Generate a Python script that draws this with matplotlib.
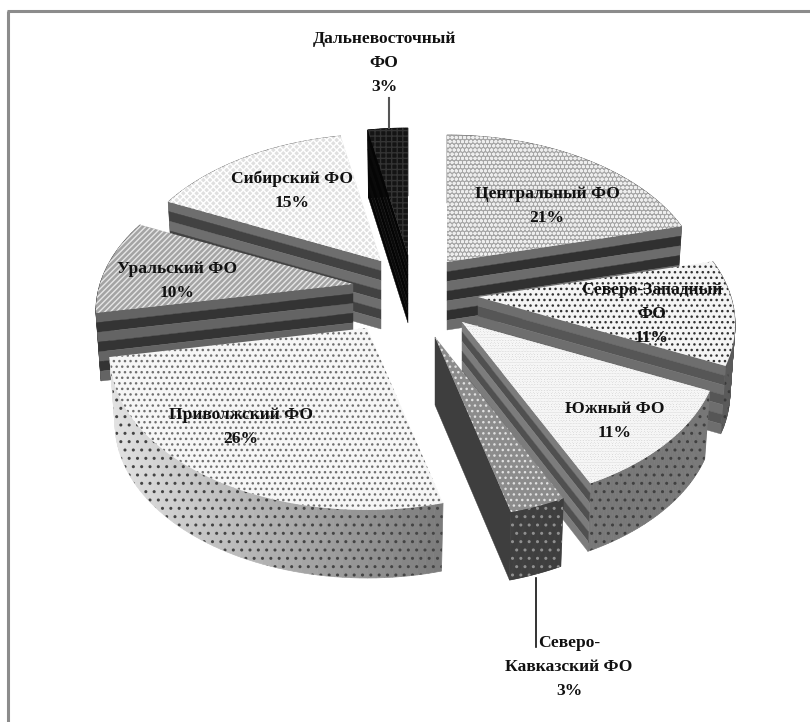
import numpy as np
import matplotlib
matplotlib.use("Agg")
import matplotlib.pyplot as plt
from matplotlib.patches import Polygon

plt.rcParams['font.family'] = ['Liberation Serif', 'DejaVu Serif']
plt.rcParams['hatch.linewidth'] = 1.0

# data
districts = ["Центральный ФО", "Северо-Западный\nФО", "Южный ФО", "Северо-\nКавказский ФО",
             "Приволжский ФО", "Уральский ФО", "Сибирский ФО", "Дальневосточный\nФО"]
shares = [21, 11, 11, 3, 26, 10, 15, 3]

# where each exploded slice sits on the page
apex = [(447, 262), (478, 297), (462, 322), (435, 337),
        (367, 328), (353, 284), (381, 261), (408, 255)]
label_xy = [(547, 206), (652, 314), (615, 421), (569, 667),
            (241, 427), (177, 281), (292, 191), (384, 63)]

# look of the slices: top colour, hatch colour, hatch, side wall edge
top_face = ["#a6a6a6", "#f4f4f4", "#d6d6d6", "#8c8c8c", "#f6f6f6", "#a4a4a4", "#e0e0e0", "#141414"]
top_hatch = ["#eeeeee", "#333333", "#f6f6f6", "#e0e0e0", "#707070", "#e6e6e6", "#ffffff", "#333333"]
top_pattern = ["oooo", "...", "oooooo", "...", "...", "//////", "xxxxx", "+++"]
wall_side = ["end", "end", "end", "end", None, "start", "start", "start"]
wall_cols = [("#6c6c6c", "#303030"), ("#6e6e6e", "#565656"), ("#7c7c7c", "#505050"), ("#3e3e3e", "#3e3e3e"),
             None, ("#646464", "#343434"), ("#6e6e6e", "#424242"), ("#050505", "#0a0a0a")]
arc_left = ["#5a5a5a", "#5a5a5a", "#787878", "#3e3e3e", "#e2e2e2", "#505050", "#707070", "#111111"]
arc_right = ["#5a5a5a", "#5a5a5a", "#787878", "#3e3e3e", "#7c7c7c", "#505050", "#707070", "#111111"]
arc_hatch = ["#3a3a3a", "#3a3a3a", "#404040", "#909090", "#444444", "#3a3a3a", "#3a3a3a", "#333333"]

RX, RY, K = 253, 149.6, 0.178
DEPTH = 68

draw_order = [7, 6, 5, 4, 0, 1, 2, 3]


def project(ang, r=1.0):
    u = r * np.sin(ang)
    v = r * np.cos(ang)
    w = 1 + K * v
    return RX * u / w, -RY * v / w


def drop(pts, ap, frac=1.0):
    # move points of the top face down to the level frac of the thickness
    pts = np.asarray(pts, dtype=float).copy()
    pts[:, 0] = ap[0] + (pts[:, 0] - ap[0]) * (1 - 0.02 * frac)
    pts[:, 1] = pts[:, 1] + DEPTH * frac
    return pts


fig = plt.figure(figsize=(8.1, 7.22), dpi=100)
ax = fig.add_axes([0, 0, 1, 1])
ax.set_xlim(0, 810)
ax.set_ylim(722, 0)
ax.axis("off")

# frame of the picture
ax.plot([8, 8], [722, 10.5], color="#8c8c8c", lw=2.2, solid_capstyle="butt")
ax.plot([7, 810], [10.5, 10.5], color="#8c8c8c", lw=2.2, solid_capstyle="butt")

edges = np.cumsum([0] + shares) / sum(shares) * 2 * np.pi

for i in draw_order:
    a0, a1 = edges[i], edges[i + 1]
    ap = apex[i]
    angs = np.linspace(a0, a1, 60)
    xs, ys = project(angs)
    arc = np.column_stack([ap[0] + xs, ap[1] + ys])
    z = 5 + draw_order.index(i) * 5

    # outer wall, cut in pieces for the shading
    low = drop(arc, ap)
    xmin, xmax = arc[:, 0].min(), arc[:, 0].max()
    c0 = np.array(matplotlib.colors.to_rgb(arc_left[i]))
    c1 = np.array(matplotlib.colors.to_rgb(arc_right[i]))
    for j in range(len(arc) - 1):
        f = (arc[j, 0] - xmin) / max(xmax - xmin, 1)
        ax.add_patch(Polygon([arc[j], arc[j + 1], low[j + 1], low[j]], closed=True,
                             fc=c0 + (c1 - c0) * f, ec=c0 + (c1 - c0) * f, lw=0.5, zorder=z))
    ax.add_patch(Polygon(np.vstack([arc, low[::-1]]), closed=True, fc="none",
                         ec=arc_hatch[i], hatch="..", lw=0, zorder=z + 1))

    # cut wall along one radius, in bands
    if wall_side[i] is not None:
        end = arc[-1] if wall_side[i] == "end" else arc[0]
        edge = np.array([ap, end], dtype=float)
        n_bands = 1 if i == 3 else 7
        for b in range(n_bands):
            f0, f1 = b / n_bands, (b + 1) / n_bands
            top = drop(edge, ap, f0)
            bot = drop(edge, ap, f1)
            col = wall_cols[i][b % 2]
            ax.add_patch(Polygon([top[0], top[1], bot[1], bot[0]], closed=True,
                                 fc=col, ec=col, lw=0.3, zorder=z + 2))

    # top face
    face = np.vstack([ap, arc])
    ax.add_patch(Polygon(face, closed=True, fc=top_face[i], ec=top_hatch[i],
                         hatch=top_pattern[i], lw=0, zorder=z + 3))

# leader lines
ax.plot([389, 389], [98, 128], color="#555555", lw=1.5, zorder=60)
ax.plot([536, 536], [578, 647], color="#111111", lw=1.2, zorder=60)

for i, name in enumerate(districts):
    ax.text(label_xy[i][0], label_xy[i][1], "%s\n%d%%" % (name, shares[i]),
            ha="center", va="center", fontsize=12.6, fontweight="bold",
            color="#111111", linespacing=1.65, zorder=70)

fig.savefig("out.png", dpi=100)
